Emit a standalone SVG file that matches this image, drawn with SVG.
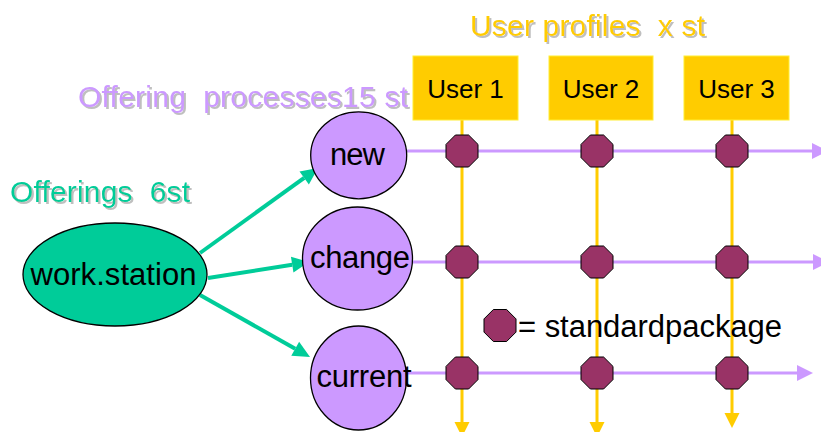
<svg xmlns="http://www.w3.org/2000/svg" xmlns:xlink="http://www.w3.org/1999/xlink" width="821" height="432" viewBox="0 0 821 432">
<style>
text{font-family:"Liberation Sans",Arial,sans-serif}
.title{font-size:30px;filter:url(#sh)}
.lbl{font-size:31px;fill:#000}
.ulbl{font-size:26px;fill:#000;text-anchor:middle}
.proc{fill:#CC99FF;stroke:#000;stroke-width:1.3}
.user{fill:#FFCC00;stroke:#FFEE33;stroke-width:1}
.vline{stroke:#FFCC00;stroke-width:3;fill:none;marker-end:url(#ay)}
.hline{stroke:#CC99FF;stroke-width:3;fill:none;marker-end:url(#ap)}
.gline{stroke:#00CC99;stroke-width:4;fill:none;marker-end:url(#ag)}
.pkg{fill:#993366;stroke:#000;stroke-width:1}
</style>
<defs>
<filter id="sh" x="-5%" y="-20%" width="115%" height="150%">
<feDropShadow dx="2" dy="2" stdDeviation="0.3" flood-color="#b4b4b4" flood-opacity="0.85"/>
</filter>
<marker id="ag" markerUnits="userSpaceOnUse" orient="auto" refX="0" refY="8" markerWidth="18" markerHeight="16" overflow="visible"><path d="M0,0 L17,8 L0,16 z" fill="#00CC99"/></marker>
<marker id="ap" markerUnits="userSpaceOnUse" orient="auto" refX="0" refY="8" markerWidth="16" markerHeight="16" overflow="visible"><path d="M0,0 L16,8 L0,16 z" fill="#CC99FF"/></marker>
<marker id="ay" markerUnits="userSpaceOnUse" orient="auto" refX="0" refY="7.5" markerWidth="16" markerHeight="15" overflow="visible"><path d="M0,0 L15,7.5 L0,15 z" fill="#FFCC00"/></marker>
<polygon id="oct" points="-6.6,-16 6.6,-16 16,-6.6 16,6.6 6.6,16 -6.6,16 -16,6.6 -16,-6.6"/>
</defs>

<text class="title" x="470" y="36" fill="#FFCC00" textLength="235" xml:space="preserve">User profiles  x st</text>
<text class="title" x="78" y="107" fill="#CC99FF" textLength="330" xml:space="preserve">Offering  processes15 st</text>
<text class="title" x="10" y="202" fill="#00CC99" textLength="180" xml:space="preserve">Offerings  6st</text>

<g id="connectors">
<line class="vline" x1="462" y1="120" x2="462" y2="422"/>
<line class="vline" x1="597" y1="120" x2="597" y2="422"/>
<line class="vline" x1="732" y1="120" x2="732" y2="413"/>
<line class="hline" x1="407" y1="151" x2="812" y2="151"/>
<line class="hline" x1="412" y1="262" x2="813" y2="262"/>
<line class="hline" x1="406" y1="373" x2="797" y2="373"/>
<line class="gline" x1="200" y1="253" x2="304.2" y2="177.9"/>
<line class="gline" x1="208" y1="278" x2="292.2" y2="264.7"/>
<line class="gline" x1="200" y1="295" x2="295.2" y2="348.7"/>
</g>

<g id="user1"><rect class="user" x="413" y="56" width="105" height="64"/><text class="ulbl" x="465.5" y="98">User 1</text></g>
<g id="user2"><rect class="user" x="549" y="56" width="104" height="64"/><text class="ulbl" x="601" y="98">User 2</text></g>
<g id="user3"><rect class="user" x="684" y="56" width="105" height="64"/><text class="ulbl" x="736.5" y="98">User 3</text></g>

<g id="workstation"><ellipse cx="115" cy="274.5" rx="92" ry="51.5" fill="#00CC99" stroke="#000" stroke-width="1.3"/><text class="lbl" x="30.5" y="285" textLength="166">work.station</text></g>
<g id="new"><ellipse class="proc" cx="358.7" cy="155.3" rx="48" ry="43.5"/><text class="lbl" x="330" y="165" textLength="55">new</text></g>
<g id="change"><ellipse class="proc" cx="357.5" cy="258.5" rx="55" ry="51.5"/><text class="lbl" x="310" y="268" textLength="100">change</text></g>
<g id="current"><ellipse class="proc" cx="358.5" cy="378" rx="48" ry="52"/><text class="lbl" x="316.5" y="387" textLength="95">current</text></g>

<g id="packages">
<use xlink:href="#oct" class="pkg" x="462" y="151"/>
<use xlink:href="#oct" class="pkg" x="597" y="151"/>
<use xlink:href="#oct" class="pkg" x="732" y="151"/>
<use xlink:href="#oct" class="pkg" x="462" y="262"/>
<use xlink:href="#oct" class="pkg" x="597" y="262"/>
<use xlink:href="#oct" class="pkg" x="732" y="262"/>
<use xlink:href="#oct" class="pkg" x="462" y="373"/>
<use xlink:href="#oct" class="pkg" x="597" y="373"/>
<use xlink:href="#oct" class="pkg" x="732" y="373"/>
</g>

<g id="legend">
<use xlink:href="#oct" class="pkg" x="500" y="325.5"/>
<text class="lbl" x="518" y="337" textLength="264">= standardpackage</text>
</g>
</svg>
